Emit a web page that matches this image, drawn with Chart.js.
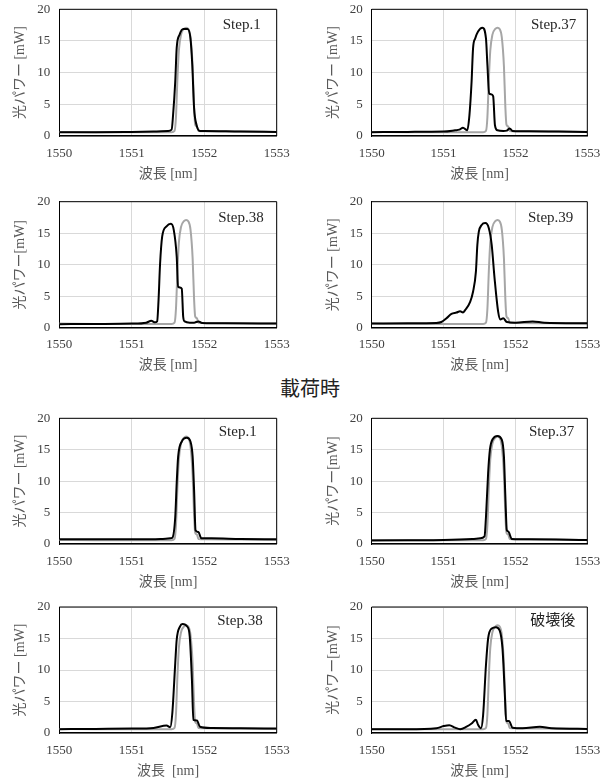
<!DOCTYPE html>
<html>
<head>
<meta charset="utf-8">
<script src="https://cdn.jsdelivr.net/npm/chart.js@4.4.1/dist/chart.umd.min.js"></script>
<style>
  html, body { margin: 0; padding: 0; background: #fff; }
  body { width: 614px; height: 780px; position: relative; overflow: hidden; }
  canvas { position: absolute; }
  #caption {
    position: absolute; left: 260px; width: 100px; top: 373px;
    text-align: center; font: 20px "Noto Sans CJK JP", sans-serif; color: #222;
  }
</style>
</head>
<body>
<div id="caption">載荷時</div>

<script>
// reference spectrum (grey) – same in every panel
const refX = [1550, 1550.5, 1551, 1551.4, 1551.55, 1551.59, 1551.61, 1551.63, 1551.65, 1551.68, 1551.72, 1551.75, 1551.78, 1551.81, 1551.84, 1551.86, 1551.875, 1551.9, 1551.92, 1552, 1552.5, 1553];
const refY = [0.65, 0.6, 0.6, 0.6, 0.6, 0.8, 3, 9, 13.5, 16, 16.9, 17.1, 16.9, 15.6, 11, 4.5, 1.8, 1.5, 0.8, 0.75, 0.7, 0.65];

// measured spectra (black)
const s1X = [1550, 1550.5, 1551, 1551.3, 1551.5, 1551.55, 1551.57, 1551.6, 1551.62, 1551.66, 1551.71, 1551.77, 1551.81, 1551.835, 1551.86, 1551.895, 1551.94, 1552, 1552.5, 1553];
const s1Y = [0.6, 0.6, 0.65, 0.7, 0.8, 1.0, 3.3, 8.6, 13.9, 16.0, 16.9, 16.9, 15.4, 11.2, 4.4, 1.7, 0.8, 0.8, 0.7, 0.65];

const s37X = [1550, 1550.5, 1551, 1551.16, 1551.22, 1551.27, 1551.33, 1551.36, 1551.39, 1551.41, 1551.44, 1551.48, 1551.54, 1551.59, 1551.61, 1551.635, 1551.66, 1551.69, 1551.715, 1551.75, 1551.83, 1551.88, 1551.92, 1551.96, 1552.2, 1552.6, 1553];
const s37Y = [0.6, 0.65, 0.7, 0.9, 1.0, 1.3, 0.9, 3.3, 8.6, 13.8, 15.4, 16.5, 17.1, 15.4, 11.2, 6.7, 6.6, 6.3, 1.7, 0.9, 0.8, 0.85, 1.2, 0.8, 0.75, 0.7, 0.65];

const s38X = [1550, 1550.5, 1551, 1551.2, 1551.27, 1551.32, 1551.35, 1551.37, 1551.39, 1551.42, 1551.48, 1551.54, 1551.58, 1551.62, 1551.64, 1551.665, 1551.69, 1551.71, 1551.73, 1551.8, 1551.86, 1551.92, 1551.97, 1552.3, 1553];
const s38Y = [0.55, 0.6, 0.65, 0.8, 1.1, 0.85, 1.0, 4.5, 10.0, 14.5, 16.1, 16.5, 15.5, 11.3, 6.5, 6.4, 6.2, 1.7, 1.0, 0.8, 0.8, 1.0, 0.75, 0.7, 0.65];

const s39X = [1550, 1550.5, 1550.9, 1550.97, 1551.04, 1551.11, 1551.18, 1551.23, 1551.27, 1551.3, 1551.37, 1551.41, 1551.45, 1551.47, 1551.49, 1551.53, 1551.58, 1551.63, 1551.67, 1551.71, 1551.76, 1551.79, 1551.83, 1551.88, 1552, 1552.24, 1552.4, 1553];
const s39Y = [0.65, 0.7, 0.75, 0.9, 1.5, 2.2, 2.4, 2.6, 2.4, 2.8, 4.1, 5.7, 8.9, 13.1, 15.2, 16.3, 16.6, 15.8, 13.1, 7.8, 2.5, 1.3, 1.5, 0.9, 0.8, 1.0, 0.8, 0.7];

const l1X = [1550, 1550.5, 1551, 1551.4, 1551.53, 1551.56, 1551.6, 1551.62, 1551.64, 1551.69, 1551.76, 1551.81, 1551.84, 1551.86, 1551.88, 1551.92, 1551.96, 1552.1, 1552.5, 1553];
const l1Y = [0.75, 0.75, 0.75, 0.8, 0.9, 1.0, 4.3, 9.7, 13.9, 16.3, 16.9, 16.3, 13.9, 8.6, 2.2, 1.9, 0.9, 0.9, 0.8, 0.75];

const l37X = [1550, 1550.5, 1551, 1551.4, 1551.51, 1551.57, 1551.59, 1551.62, 1551.645, 1551.69, 1551.75, 1551.81, 1551.84, 1551.86, 1551.88, 1551.9, 1551.95, 1552.2, 1553];
const l37Y = [0.55, 0.6, 0.65, 0.8, 0.9, 1.2, 4.3, 11.3, 15.0, 16.8, 17.2, 16.6, 13.9, 7.5, 2.2, 2.0, 0.8, 0.75, 0.65];

const l38X = [1550, 1550.5, 1551, 1551.3, 1551.48, 1551.53, 1551.56, 1551.6, 1551.62, 1551.665, 1551.7, 1551.765, 1551.8, 1551.83, 1551.85, 1551.9, 1551.94, 1552.1, 1552.5, 1553];
const l38Y = [0.6, 0.65, 0.7, 0.8, 1.2, 0.9, 3.2, 11.1, 14.8, 16.9, 17.3, 16.9, 15.3, 8.5, 2.1, 2.0, 1.0, 0.8, 0.75, 0.7];

const brkX = [1550, 1550.5, 1550.9, 1551, 1551.08, 1551.16, 1551.23, 1551.32, 1551.39, 1551.45, 1551.48, 1551.52, 1551.55, 1551.59, 1551.62, 1551.67, 1551.73, 1551.78, 1551.82, 1551.855, 1551.87, 1551.91, 1551.96, 1552.1, 1552.34, 1552.5, 1553];
const brkY = [0.6, 0.6, 0.75, 1.1, 1.25, 0.85, 0.6, 1.0, 1.5, 2.1, 1.3, 0.75, 2.8, 10.8, 15.0, 16.6, 16.8, 16.3, 13.4, 5.5, 1.9, 1.9, 0.85, 0.75, 1.0, 0.75, 0.65];

const panelLabels = ["Step.1", "Step.37", "Step.38", "Step.39", "Step.1", "Step.37", "Step.38", "破壊後"];
const yTitles = ["光パワー [mW]", "光パワー [mW]", "光パワー[mW]", "光パワー [mW]", "光パワー [mW]", "光パワー[mW]", "光パワー [mW]", "光パワー[mW]"];
const xTitles = ["波長 [nm]", "波長 [nm]", "波長 [nm]", "波長 [nm]", "波長 [nm]", "波長 [nm]", "波長  [nm]", "波長 [nm]"];
const seriesX = [s1X, s37X, s38X, s39X, l1X, l37X, l38X, brkX];
const seriesY = [s1Y, s37Y, s38Y, s39Y, l1Y, l37Y, l38Y, brkY];

// layout: columns and rows (page pixels)
const cols = [
  { left: 0, width: 307, plotLeft: 59.3, plotRight: 276.7, yTitleX: 20 },
  { left: 307, width: 307, plotLeft: 371.7, plotRight: 587.3, yTitleX: 333 }
];
const rows = [
  { top: 0, height: 190, plotTop: 9.3, plotBottom: 136 },
  { top: 190, height: 195, plotTop: 201.7, plotBottom: 327.7 },
  { top: 405, height: 190, plotTop: 418.3, plotBottom: 544 },
  { top: 595, height: 185, plotTop: 607, plotBottom: 733 }
];
const labelInset = [16, 11, 13, 14, 20, 13, 14, 12];
const labelDown = [16, 16, 16, 16, 14, 14, 14, 14];

const serif = '"Liberation Serif", "Noto Sans CJK JP", serif';

const toPoints = (xs, ys) => xs.map((x, i) => ({ x: x, y: ys[i] }));

// frame + panel label
const framePlugin = {
  id: "frame",
  afterDraw(chart, args, opts) {
    const { ctx, chartArea: a } = chart;
    ctx.save();
    ctx.strokeStyle = "#000";
    ctx.lineWidth = 1;
    ctx.beginPath();
    ctx.moveTo(a.left, a.top);
    ctx.lineTo(a.right, a.top);
    ctx.lineTo(a.right, a.bottom);
    ctx.stroke();
    ctx.fillStyle = "#262626";
    ctx.font = '15px ' + serif;
    ctx.textAlign = "right";
    ctx.textBaseline = "middle";
    ctx.fillText(opts.text, a.right - opts.inset, a.top + opts.down);
    ctx.restore();
  }
};

function makePanel(i) {
  const col = cols[i % 2];
  const row = rows[Math.floor(i / 2)];

  const canvas = document.createElement("canvas");
  canvas.width = col.width;
  canvas.height = row.height;
  canvas.style.left = col.left + "px";
  canvas.style.top = row.top + "px";
  document.body.appendChild(canvas);

  const yAxisWidth = col.plotLeft - col.left;
  const xAxisHeight = row.top + row.height - row.plotBottom;
  const xTitlePad = (row.top + row.height) - (row.plotBottom + 38) - 8.4;
  const yTitlePad = col.yTitleX - col.left - 8.4;

  new Chart(canvas.getContext("2d"), {
    type: "line",
    data: {
      datasets: [
        {
          data: toPoints(seriesX[i], seriesY[i]),
          borderColor: "#000",
          borderWidth: 2,
          pointRadius: 0,
          cubicInterpolationMode: "monotone"
        },
        {
          data: toPoints(refX, refY),
          borderColor: "#a6a6a6",
          borderWidth: 2,
          pointRadius: 0,
          cubicInterpolationMode: "monotone"
        }
      ]
    },
    options: {
      responsive: false,
      animation: false,
      layout: {
        padding: {
          top: row.plotTop - row.top,
          right: col.left + col.width - col.plotRight,
          bottom: 0,
          left: 0
        }
      },
      plugins: {
        legend: { display: false },
        tooltip: { enabled: false },
        frame: { text: panelLabels[i], inset: labelInset[i], down: labelDown[i] }
      },
      scales: {
        x: {
          type: "linear",
          min: 1550,
          max: 1553,
          ticks: {
            stepSize: 1,
            padding: 9.5,
            maxRotation: 0,
            color: "#404040",
            font: { family: serif, size: 13 },
            callback: v => String(v)
          },
          grid: { color: "#d9d9d9", drawTicks: false },
          border: { display: true, color: "#000", width: 1.5 },
          title: {
            display: true,
            text: xTitles[i],
            color: "#595959",
            font: { family: serif, size: 14 },
            padding: { top: 0, bottom: xTitlePad }
          },
          afterFit: s => { s.height = xAxisHeight; s.paddingLeft = 0; s.paddingRight = 0; }
        },
        y: {
          min: 0,
          max: 20,
          ticks: {
            stepSize: 5,
            padding: 9,
            color: "#404040",
            font: { family: serif, size: 13 }
          },
          grid: { color: "#d9d9d9", drawTicks: false },
          border: { display: true, color: "#000", width: 1 },
          title: {
            display: true,
            text: yTitles[i],
            color: "#595959",
            font: { family: serif, size: 14 },
            padding: { top: yTitlePad, bottom: 0 }
          },
          afterFit: s => { s.width = yAxisWidth; s.paddingTop = 0; s.paddingBottom = 0; }
        }
      }
    },
    plugins: [framePlugin]
  });
}

for (let i = 0; i < 8; i++) makePanel(i);
</script>
</body>
</html>
